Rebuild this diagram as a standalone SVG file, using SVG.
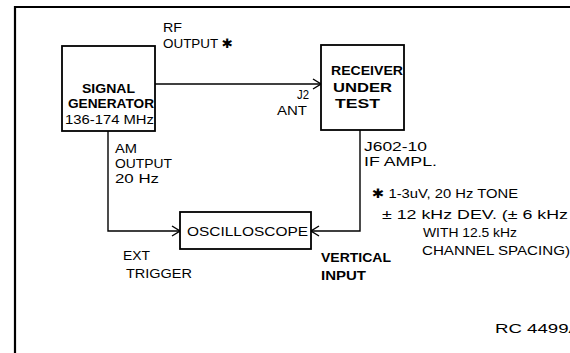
<svg xmlns="http://www.w3.org/2000/svg" width="570" height="353" viewBox="0 0 570 353">
  <style>
    .t { font-family: "Liberation Sans", "DejaVu Sans", sans-serif; font-size: 13px; fill: #000; }
    .s { font-size: 12px; }
    .b { font-weight: bold; }
    .box { fill: #fff; stroke: #000; stroke-width: 1.8; }
    .ln { fill: none; stroke: #000; stroke-width: 1.4; }
    .frame { fill: none; stroke: #000; stroke-width: 2.2; }
  </style>
  <defs>
    <marker id="arr" markerUnits="userSpaceOnUse" markerWidth="10" markerHeight="12" refX="9" refY="6" orient="auto">
      <path d="M1,1 L9,6 L1,11" fill="none" stroke="#000" stroke-width="1.4"/>
    </marker>
  </defs>
  <rect width="570" height="353" fill="#fff"/>
  <g id="frame">
    <path class="frame" d="M15,353 L15,7 L570,7"/>
  </g>
  <g id="connectors">
    <path class="ln" d="M155,84 L321,84" marker-end="url(#arr)"/>
    <path class="ln" d="M108,131 L108,231 L180,231" marker-end="url(#arr)"/>
    <path class="ln" d="M360,130 L360,231 L311,231" marker-end="url(#arr)"/>
  </g>
  <g id="signal-generator">
    <rect class="box" x="62" y="46" width="93" height="85"/>
    <text class="t b s" x="82" y="93" textLength="53" lengthAdjust="spacingAndGlyphs">SIGNAL</text>
    <text class="t b s" x="68" y="108" textLength="86" lengthAdjust="spacingAndGlyphs">GENERATOR</text>
    <text class="t s" x="65" y="124" textLength="89" lengthAdjust="spacingAndGlyphs">136-174 MHz</text>
  </g>
  <g id="receiver">
    <rect class="box" x="321" y="45" width="83" height="85"/>
    <text class="t b" x="331" y="75" textLength="72" lengthAdjust="spacingAndGlyphs">RECEIVER</text>
    <text class="t b" x="333" y="92" textLength="59" lengthAdjust="spacingAndGlyphs">UNDER</text>
    <text class="t b" x="335" y="108" textLength="45" lengthAdjust="spacingAndGlyphs">TEST</text>
  </g>
  <g id="oscilloscope">
    <rect class="box" x="180" y="212" width="131" height="37"/>
    <text class="t" x="187" y="236" textLength="121" lengthAdjust="spacingAndGlyphs">OSCILLOSCOPE</text>
  </g>
  <g id="labels">
    <text class="t" x="163" y="32" textLength="19" lengthAdjust="spacingAndGlyphs">RF</text>
    <text class="t" x="163" y="48" textLength="70" lengthAdjust="spacingAndGlyphs">OUTPUT ✱</text>
    <text class="t" x="297" y="99" textLength="12" lengthAdjust="spacingAndGlyphs">J2</text>
    <text class="t" x="277" y="115" textLength="30" lengthAdjust="spacingAndGlyphs">ANT</text>
    <text class="t s" x="115" y="153" textLength="22" lengthAdjust="spacingAndGlyphs">AM</text>
    <text class="t s" x="115" y="168" textLength="57" lengthAdjust="spacingAndGlyphs">OUTPUT</text>
    <text class="t s" x="115" y="183" textLength="44" lengthAdjust="spacingAndGlyphs">20 Hz</text>
    <text class="t s" x="364" y="151" textLength="63" lengthAdjust="spacingAndGlyphs">J602-10</text>
    <text class="t s" x="364" y="166" textLength="73" lengthAdjust="spacingAndGlyphs">IF AMPL.</text>
    <text class="t" x="123" y="260" textLength="27" lengthAdjust="spacingAndGlyphs">EXT</text>
    <text class="t" x="126" y="278" textLength="66" lengthAdjust="spacingAndGlyphs">TRIGGER</text>
    <text class="t b" x="321" y="262" textLength="70" lengthAdjust="spacingAndGlyphs">VERTICAL</text>
    <text class="t b" x="321" y="280" textLength="45" lengthAdjust="spacingAndGlyphs">INPUT</text>
  </g>
  <g id="note">
    <text class="t" x="372" y="198" textLength="146" lengthAdjust="spacingAndGlyphs">✱ 1-3uV, 20 Hz TONE</text>
    <text class="t" x="382" y="219" textLength="186" lengthAdjust="spacingAndGlyphs">± 12 kHz  DEV. (± 6 kHz</text>
    <text class="t" x="423" y="237" textLength="94" lengthAdjust="spacingAndGlyphs">WITH 12.5 kHz</text>
    <text class="t" x="422" y="255" textLength="148" lengthAdjust="spacingAndGlyphs">CHANNEL SPACING)</text>
    <text class="t" x="495" y="333" textLength="86" lengthAdjust="spacingAndGlyphs">RC 4499A</text>
  </g>
</svg>
